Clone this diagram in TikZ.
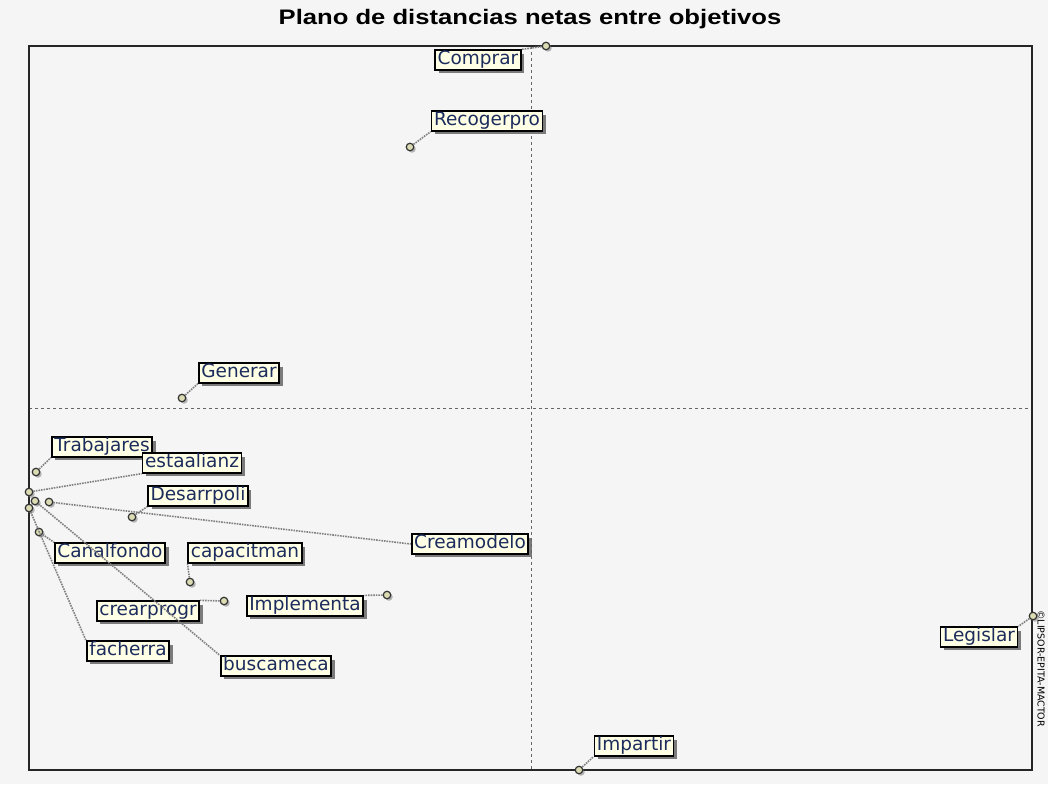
\documentclass[tikz,border=0pt]{standalone}
\usepackage{fontspec}
\setmainfont{DejaVu Sans}
\newfontfamily\titlefont{Liberation Sans}
\usetikzlibrary{positioning, shadows}
\definecolor{plotbg}{HTML}{F5F5F5}
\definecolor{labelfill}{HTML}{FFFFE6}
\definecolor{labeltext}{HTML}{1C2C5C}
\definecolor{pointfill}{HTML}{DCDCB4}

\tikzset{
    objlabel/.style={draw=black, line width=1.8pt, fill=labelfill, text=labeltext,
        font=\fontsize{18.5}{20}\selectfont, inner xsep=2.5pt, inner ysep=1pt,
        text height=13.5pt, text depth=4pt,
        drop shadow={shadow xshift=3.5pt, shadow yshift=-3.5pt, fill=black!60, opacity=.85}},
    objpoint/.style={circle, draw=black!80, line width=1.2pt, fill=pointfill,
        minimum size=7.5pt, inner sep=0pt,
        drop shadow={shadow xshift=2pt, shadow yshift=-2pt, fill=black!55}},
    link/.style={densely dotted, line width=1.6pt, black!50},
    axis/.style={dashed, black!60, line width=.9pt}
}

\begin{document}
\begin{tikzpicture}[x=1pt, y=-1pt]
        % Background and frame
        \fill[plotbg] (0,0) rectangle (1048,784);
        \useasboundingbox (0,0) rectangle (1048,784);
        \node[font=\titlefont\bfseries\fontsize{21}{24}\selectfont, xscale=1.22] (title) at (530,19) {Plano de distancias netas entre objetivos};
        \draw[axis] (531,46) -- (531,770);
        \draw[axis] (29,408) -- (1032,408);
        \draw[black!85, line width=1.6pt] (29,46) rectangle (1032,770);
        \node[rotate=-90, anchor=west, font=\fontsize{9.5}{10}\selectfont, inner sep=0pt] (copy) at (1041,610) {©LIPSOR-EPITA-MACTOR};

        % Add the points
        \node[objpoint] (pComprar) at (546,46) {};
        \node[objpoint] (pRecoger) at (410,147) {};
        \node[objpoint] (pGenerar) at (182,398) {};
        \node[objpoint] (pTrabaj) at (36,472) {};
        \node[objpoint] (pAlianz) at (29,492) {};
        \node[objpoint] (pBusca) at (35,501) {};
        \node[objpoint] (pCrea) at (49,502) {};
        \node[objpoint] (pFacher) at (29,508) {};
        \node[objpoint] (pDesarr) at (132,517) {};
        \node[objpoint] (pCanal) at (39,532) {};
        \node[objpoint] (pCapac) at (190,582) {};
        \node[objpoint] (pCrearp) at (224,601) {};
        \node[objpoint] (pImplem) at (387,595) {};
        \node[objpoint] (pLegis) at (1033,616) {};
        \node[objpoint] (pImpart) at (579,770) {};

        % Add the labels
        \node[objlabel] (lComprar) at (478,60) {Comprar};
        \node[objlabel] (lRecoger) at (487,121) {Recogerpro};
        \node[objlabel] (lGenerar) at (239,373) {Generar};
        \node[objlabel] (lTrabaj) at (102,447) {Trabajares};
        \node[objlabel] (lAlianz) at (192,463) {estaalianz};
        \node[objlabel] (lDesarr) at (198,496) {Desarrpoli};
        \node[objlabel] (lCrea) at (470,544) {Creamodelo};
        \node[objlabel] (lCanal) at (110,553) {Canalfondo};
        \node[objlabel] (lCapac) at (245,553) {capacitman};
        \node[objlabel] (lCrearp) at (148,611) {crearprogr};
        \node[objlabel] (lImplem) at (305,606) {Implementa};
        \node[objlabel] (lFacher) at (128,651) {facherra};
        \node[objlabel] (lBusca) at (276,666) {buscameca};
        \node[objlabel] (lLegis) at (979,637) {Legislar};
        \node[objlabel] (lImpart) at (634,746) {Impartir};

        % Connect the points with their labels
        \draw[link]
            (pComprar) -- (lComprar.north east)
            (pRecoger) -- (lRecoger.south west)
            (pGenerar) -- (lGenerar.south west)
            (pTrabaj)  -- (lTrabaj.south west)
            (pAlianz)  -- (lAlianz.south west)
            (pCrea)    -- (lCrea.west)
            (pBusca)   -- (lBusca.north west)
            (pFacher)  -- (lFacher.north west)
            (pDesarr)  -- (lDesarr.south west)
            (pCanal)   -- (lCanal.north west)
            (pCapac)   -- (lCapac.south west)
            (pCrearp)  -- (lCrearp.north east)
            (pImplem)  -- (lImplem.north east)
            (pLegis)   -- (lLegis.north east)
            (pImpart)  -- (lImpart.south west);
    \end{tikzpicture}
\end{document}
